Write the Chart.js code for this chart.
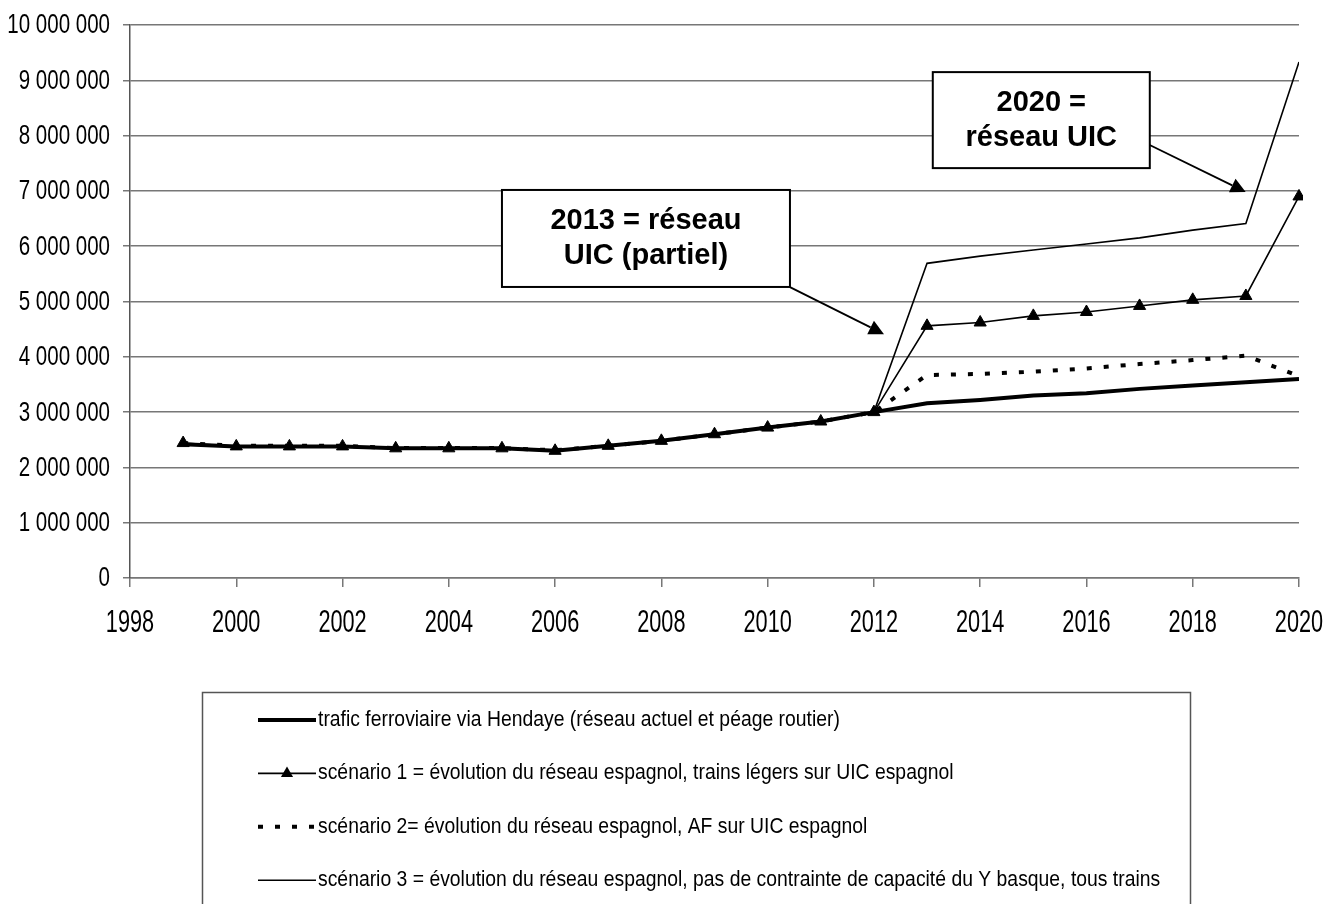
<!DOCTYPE html>
<html lang="fr">
<head>
<meta charset="utf-8">
<title>Trafic ferroviaire via Hendaye – scénarios</title>
<script src="https://cdn.jsdelivr.net/npm/chart.js@4/dist/chart.umd.min.js"></script>
<style>
  html, body { margin: 0; padding: 0; background: #fff; }
  #wrap { width: 1323px; height: 904px; }
</style>
</head>
<body>
<div id="wrap"><canvas id="c" width="1323" height="904"></canvas></div>
<script>
// Years on the horizontal axis
const years = [1999, 2000, 2001, 2002, 2003, 2004, 2005, 2006, 2007, 2008, 2009,
               2010, 2011, 2012, 2013, 2014, 2015, 2016, 2017, 2018, 2019, 2020];

// Rail freight traffic, current network and road toll
const traficHendaye = [2420000, 2380000, 2380000, 2380000, 2345000, 2345000, 2345000, 2300000, 2390000, 2480000, 2600000,
                       2720000, 2830000, 3000000, 3160000, 3220000, 3300000, 3340000, 3420000, 3480000, 3540000, 3600000];

// Scenario 1: light trains on Spanish UIC gauge
const scenario1 = [2440000, 2380000, 2380000, 2380000, 2345000, 2345000, 2345000, 2300000, 2390000, 2480000, 2600000,
                   2720000, 2830000, 3000000, 4560000, 4620000, 4740000, 4810000, 4920000, 5030000, 5100000, 6900000];

// Scenario 2: rolling highway on Spanish UIC gauge
const scenario2 = [2440000, 2390000, 2390000, 2390000, 2350000, 2350000, 2350000, 2310000, 2390000, 2480000, 2600000,
                   2720000, 2830000, 3000000, 3670000, 3690000, 3730000, 3790000, 3870000, 3940000, 4020000, 3650000];

// Scenario 3: no capacity limit on the Basque Y, all trains
const scenario3 = [2420000, 2380000, 2380000, 2380000, 2345000, 2345000, 2345000, 2300000, 2390000, 2480000, 2600000,
                   2720000, 2830000, 3000000, 5690000, 5820000, 5930000, 6040000, 6150000, 6290000, 6410000, 9330000];

// Tick labels
const yTickValues = [0, 1000000, 2000000, 3000000, 4000000, 5000000, 6000000, 7000000, 8000000, 9000000, 10000000];
const xTickYears = [1998, 2000, 2002, 2004, 2006, 2008, 2010, 2012, 2014, 2016, 2018, 2020];

// Series labels
const seriesLabels = [
  'trafic ferroviaire via Hendaye (réseau actuel et péage routier)',
  'scénario 1 = évolution du réseau espagnol, trains légers sur UIC espagnol',
  'scénario 2= évolution du réseau espagnol, AF sur UIC espagnol',
  'scénario 3 = évolution du réseau espagnol, pas de contrainte de capacité du Y basque, tous trains'
];

// Callout boxes, positioned in data coordinates
const callouts = [
  { lines: ['2013 = réseau', 'UIC (partiel)'], cx: 2007.71, cy: 6140000, w: 288, h: 97,
    tail: { x: 2010.42, y: 5260000 }, tip: { x: 2012.19, y: 4410000 } },
  { lines: ['2020 =', 'réseau UIC'], cx: 2015.15, cy: 8280000, w: 217, h: 96,
    tail: { x: 2017.19, y: 7830000 }, tip: { x: 2018.997, y: 6980000 } }
];

const SANS = '"Liberation Sans", Arial, sans-serif';

function pts(values) { return years.map((y, i) => ({ x: y, y: values[i] })); }

function fmtSpace(v) {
  return String(Math.round(v)).replace(/\B(?=(\d{3})+(?!\d))/g, ' ');
}

// Text drawn with a horizontal/vertical stretch (narrow, tall lettering)
function stretchedText(ctx, text, x, y, align, size, sx, sy, weight) {
  ctx.save();
  ctx.translate(x, y);
  ctx.scale(sx, sy);
  ctx.font = (weight ? weight + ' ' : '') + size + 'px ' + SANS;
  ctx.textAlign = align;
  ctx.textBaseline = 'middle';
  ctx.fillStyle = '#000';
  ctx.fillText(text, 0, 0);
  ctx.restore();
}

// Axis tick labels, placed at the scales' own tick positions
const tickLabelPlugin = {
  id: 'tickLabels',
  afterDraw(chart) {
    const ctx = chart.ctx, xs = chart.scales.x, ys = chart.scales.y;
    ys.ticks.forEach(t => {
      stretchedText(ctx, fmtSpace(t.value), ys.right - 20, ys.getPixelForValue(t.value) + 1, 'right', 24, 0.855, 1.13);
    });
    xs.ticks.forEach(t => {
      stretchedText(ctx, String(t.value), xs.getPixelForValue(t.value), xs.top + 45, 'center', 26, 0.835, 1.2);
    });
  }
};

// Boxes with arrows pointing at the network milestones
const calloutPlugin = {
  id: 'callouts',
  afterDatasetsDraw(chart) {
    const ctx = chart.ctx, xs = chart.scales.x, ys = chart.scales.y;
    ctx.save();
    callouts.forEach(c => {
      const cx = xs.getPixelForValue(c.cx), cy = ys.getPixelForValue(c.cy);
      const left = cx - c.w / 2, top = cy - c.h / 2;
      ctx.fillStyle = '#fff';
      ctx.fillRect(left, top, c.w, c.h);
      ctx.strokeStyle = '#000';
      ctx.lineWidth = 2;
      ctx.strokeRect(left, top, c.w, c.h);
      stretchedText(ctx, c.lines[0], cx, cy - 17, 'center', 29, 1, 1, 'bold');
      stretchedText(ctx, c.lines[1], cx, cy + 18, 'center', 29, 1, 1, 'bold');

      const x0 = xs.getPixelForValue(c.tail.x), y0 = ys.getPixelForValue(c.tail.y);
      const x1 = xs.getPixelForValue(c.tip.x), y1 = ys.getPixelForValue(c.tip.y);
      const ang = Math.atan2(y1 - y0, x1 - x0);
      const L = 15, W = 7.5;
      const bx = x1 - L * Math.cos(ang), by = y1 - L * Math.sin(ang);
      ctx.strokeStyle = '#000';
      ctx.fillStyle = '#000';
      ctx.lineWidth = 1.8;
      ctx.beginPath();
      ctx.moveTo(x0, y0);
      ctx.lineTo(bx, by);
      ctx.stroke();
      ctx.beginPath();
      ctx.moveTo(x1, y1);
      ctx.lineTo(bx - W * Math.sin(ang), by + W * Math.cos(ang));
      ctx.lineTo(bx + W * Math.sin(ang), by - W * Math.cos(ang));
      ctx.closePath();
      ctx.fill();
    });
    ctx.restore();
  }
};

// Boxed legend listed one series per row beneath the plot
const boxLegendPlugin = {
  id: 'boxLegend',
  afterDraw(chart) {
    const ctx = chart.ctx;
    const boxLeft = 202.5, boxTop = 692.5, boxRight = 1190.5;
    const rowTop = 720, rowStep = 53.4;
    const sx0 = 258, sx1 = 316, textX = 318;
    ctx.save();
    ctx.strokeStyle = '#555';
    ctx.lineWidth = 1.5;
    ctx.beginPath();
    ctx.moveTo(boxLeft, chart.height + 5);
    ctx.lineTo(boxLeft, boxTop);
    ctx.lineTo(boxRight, boxTop);
    ctx.lineTo(boxRight, chart.height + 5);
    ctx.stroke();

    chart.data.datasets.forEach((ds, i) => {
      const y = rowTop + i * rowStep;
      ctx.strokeStyle = ds.borderColor;
      ctx.lineWidth = ds.borderWidth;
      ctx.setLineDash(ds.borderDash || []);
      ctx.beginPath();
      ctx.moveTo(sx0, y);
      ctx.lineTo(sx1, y);
      ctx.stroke();
      ctx.setLineDash([]);
      if (ds.pointRadius > 0) {
        const r = ds.pointRadius;
        const cx = (sx0 + sx1) / 2;
        ctx.fillStyle = ds.pointBackgroundColor;
        ctx.beginPath();
        ctx.moveTo(cx, y - r);
        ctx.lineTo(cx + r * Math.sin(Math.PI / 3), y + r * 0.5);
        ctx.lineTo(cx - r * Math.sin(Math.PI / 3), y + r * 0.5);
        ctx.closePath();
        ctx.fill();
      }
      stretchedText(ctx, ds.label, textX, y, 'left', 20, 0.968, 1.1);
    });
    ctx.restore();
  }
};

const common = { tension: 0, fill: false, borderColor: '#000', pointBackgroundColor: '#000',
                 pointBorderColor: '#000', pointHoverRadius: 0 };

new Chart(document.getElementById('c'), {
  type: 'line',
  data: {
    datasets: [
      Object.assign({}, common, { label: seriesLabels[0], data: pts(traficHendaye), borderWidth: 4, pointRadius: 0, order: 1 }),
      Object.assign({}, common, { label: seriesLabels[1], data: pts(scenario1), borderWidth: 1.6, pointRadius: 7,
        pointStyle: 'triangle', pointBorderWidth: 1, order: 2, clip: 4 }),
      Object.assign({}, common, { label: seriesLabels[2], data: pts(scenario2), borderWidth: 4, borderDash: [5, 12],
        borderCapStyle: 'butt', pointRadius: 0, order: 3 }),
      Object.assign({}, common, { label: seriesLabels[3], data: pts(scenario3), borderWidth: 1.6, pointRadius: 0, order: 4 })
    ]
  },
  options: {
    responsive: false,
    animation: false,
    events: [],
    layout: { padding: { top: 25, right: 24, bottom: 266, left: 0 } },
    plugins: { legend: { display: false }, tooltip: { enabled: false } },
    scales: {
      x: {
        type: 'linear',
        min: xTickYears[0],
        max: xTickYears[xTickYears.length - 1],
        afterBuildTicks(scale) { scale.ticks = xTickYears.map(v => ({ value: v })); },
        afterFit(scale) { scale.height = 60; },
        ticks: { display: false },
        grid: { drawOnChartArea: false, drawTicks: true, tickLength: 9, color: '#777', lineWidth: 1.5 },
        border: { color: '#777', width: 1.5 }
      },
      y: {
        min: yTickValues[0],
        max: yTickValues[yTickValues.length - 1],
        afterBuildTicks(scale) { scale.ticks = yTickValues.map(v => ({ value: v })); },
        afterFit(scale) { scale.width = 130; },
        ticks: { display: false },
        grid: { color: '#777', lineWidth: 1.5, tickLength: 7 },
        border: { color: '#555', width: 1.5 }
      }
    }
  },
  plugins: [calloutPlugin, tickLabelPlugin, boxLegendPlugin]
});
</script>
</body>
</html>
